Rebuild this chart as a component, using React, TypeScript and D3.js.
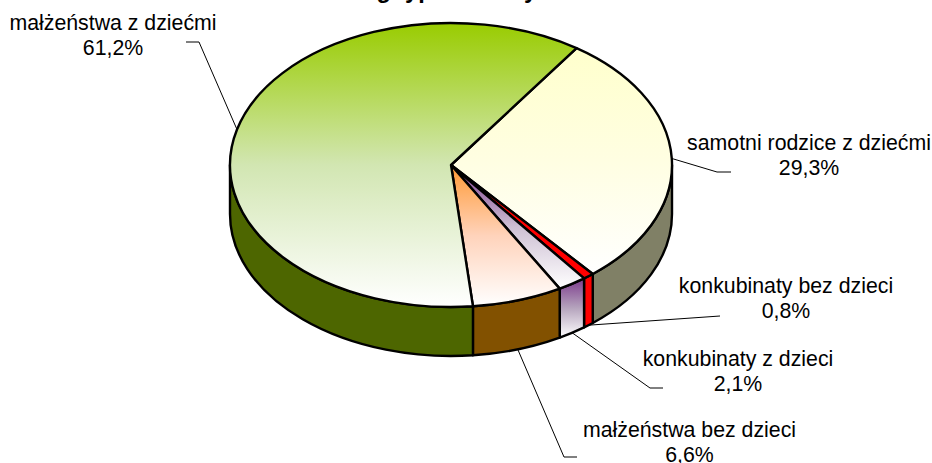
import * as d3 from 'd3';

// slices run clockwise, starting from the front of the pie
const categories = [
    'małżeństwa z dziećmi',
    'samotni rodzice z dziećmi',
    'konkubinaty bez dzieci',
    'konkubinaty z dzieci',
    'małżeństwa bez dzieci',
];
const shares = [61.2, 29.3, 0.8, 2.1, 6.6];
const shareLabels = ['61,2%', '29,3%', '0,8%', '2,1%', '6,6%'];
const title = 'według typu rodziny';

const topFrom = ['#99cc00', '#ffffcc', '#ff0000', '#7c3a8c', '#ff9933'];
const topMid = ['#d2e6b2', '#fffee2', '#ff0000', '#cdbfd3', '#ffd3bb'];
const topTo = ['#ffffff', '#ffffff', '#ff0000', '#ffffff', '#ffffff'];
const wallFrom = ['#4d6600', '#808066', '#ff0000', '#7c3a8c', '#825100'];
const wallMid = ['#4d6600', '#808066', '#ff0000', '#b5a4bd', '#825100'];
const wallTo = ['#4d6600', '#808066', '#ff0000', '#ffffff', '#825100'];

// label placement: elbow of the leader, its end, text centre and first baseline
const elbows = [[199, 42], [717, 172], [720, 316], [650, 388], [564, 457]];
const leaderEnds = [[186, 42], [731, 172], [720, 316], [663, 388], [577, 457]];
const labelX = [113, 809, 786, 738, 689.5];
const labelY = [30, 150, 293, 366, 437];

const WIDTH = 932;
const HEIGHT = 463;
const cx = 451;
const cy = 165;
const rx = 221;
const ry = 142;
const depth = 49;
const squash = ry / rx;
const FONT = '"Liberation Sans", Arial, sans-serif';
const FONT_SIZE = 21.3;

const startAngle = (174.3 * Math.PI) / 180;
const pie = d3
    .pie<number>()
    .sort(null)
    .startAngle(startAngle)
    .endAngle(startAngle + 2 * Math.PI);
const arc = d3.arc<d3.PieArcDatum<number>>().innerRadius(0).outerRadius(rx);

// side of the pie, only the part of a slice that faces the viewer
function wallPath(a0: number, a1: number) {
    const p = d3.path();
    const off = -Math.PI / 2;
    const h = depth / squash;
    p.arc(0, 0, rx, a0 + off, a1 + off);
    p.arc(0, h, rx, a1 + off, a0 + off, true);
    p.closePath();
    return p.toString();
}

function visibleRange(a0: number, a1: number): [number, number] | null {
    const front0 = Math.PI / 2;
    const front1 = (3 * Math.PI) / 2;
    // normalise so that a0 falls inside one turn
    const turn = 2 * Math.PI;
    const shift = Math.floor(a0 / turn) * turn;
    const s = Math.max(a0 - shift, front0);
    const e = Math.min(a1 - shift, front1);
    if (s < e) return [s, e];
    const s2 = Math.max(a0 - shift, front0 + turn);
    const e2 = Math.min(a1 - shift, front1 + turn);
    return s2 < e2 ? [s2, e2] : null;
}

export default function App() {
    const slices = pie(shares);
    const order = [1, 2, 3, 4, 0];

    return (
        <svg
            width={WIDTH}
            height={HEIGHT}
            style={{ position: 'absolute', left: 0, top: 0, background: '#fff' }}
            fontFamily={FONT}
        >
            <defs>
                {categories.map((_, i) => (
                    <g key={i}>
                        <linearGradient id={`top-${i}`} x1="0" y1="0" x2="0" y2="1">
                            <stop offset="0" stopColor={topFrom[i]} />
                            <stop offset="0.5" stopColor={topMid[i]} />
                            <stop offset="1" stopColor={topTo[i]} />
                        </linearGradient>
                        <linearGradient id={`wall-${i}`} x1="0" y1="0" x2="0" y2="1">
                            <stop offset="0" stopColor={wallFrom[i]} />
                            <stop offset="0.5" stopColor={wallMid[i]} />
                            <stop offset="1" stopColor={wallTo[i]} />
                        </linearGradient>
                    </g>
                ))}
            </defs>

            {/* the title sits mostly above the top edge in the reference */}
            <text
                x={537}
                y={-2}
                textAnchor="end"
                fontSize={23.5}
                fontWeight="bold"
                fill="#000"
            >
                {title}
            </text>

            <g transform={`translate(${cx},${cy}) scale(1,${squash})`}>
                {order.map((i) => {
                    const range = visibleRange(slices[i].startAngle, slices[i].endAngle);
                    if (!range) return null;
                    return (
                        <path
                            key={`wall-${i}`}
                            d={wallPath(range[0], range[1])}
                            fill={`url(#wall-${i})`}
                            stroke="#000"
                            strokeWidth={2.4}
                            strokeLinejoin="round"
                            vectorEffect="non-scaling-stroke"
                        />
                    );
                })}
                {order.map((i) => (
                    <path
                        key={`top-${i}`}
                        d={arc(slices[i]) as string}
                        fill={`url(#top-${i})`}
                        stroke="#000"
                        strokeWidth={2.4}
                        strokeLinejoin="round"
                        vectorEffect="non-scaling-stroke"
                    />
                ))}
            </g>

            {categories.map((name, i) => {
                const mid = (slices[i].startAngle + slices[i].endAngle) / 2;
                const front = Math.cos(mid) < -0.3;
                const x0 = cx + rx * Math.sin(mid);
                const y0 = cy - ry * Math.cos(mid) + (front ? depth : 0);
                const line = d3.line()([[x0, y0], elbows[i], leaderEnds[i]] as [number, number][]);
                return (
                    <g key={name}>
                        <path d={line as string} fill="none" stroke="#000" strokeWidth={1} />
                        <text x={labelX[i]} y={labelY[i]} textAnchor="middle" fontSize={FONT_SIZE} fill="#000">
                            {name}
                        </text>
                        <text x={labelX[i]} y={labelY[i] + 25} textAnchor="middle" fontSize={FONT_SIZE} fill="#000">
                            {shareLabels[i]}
                        </text>
                    </g>
                );
            })}
        </svg>
    );
}
